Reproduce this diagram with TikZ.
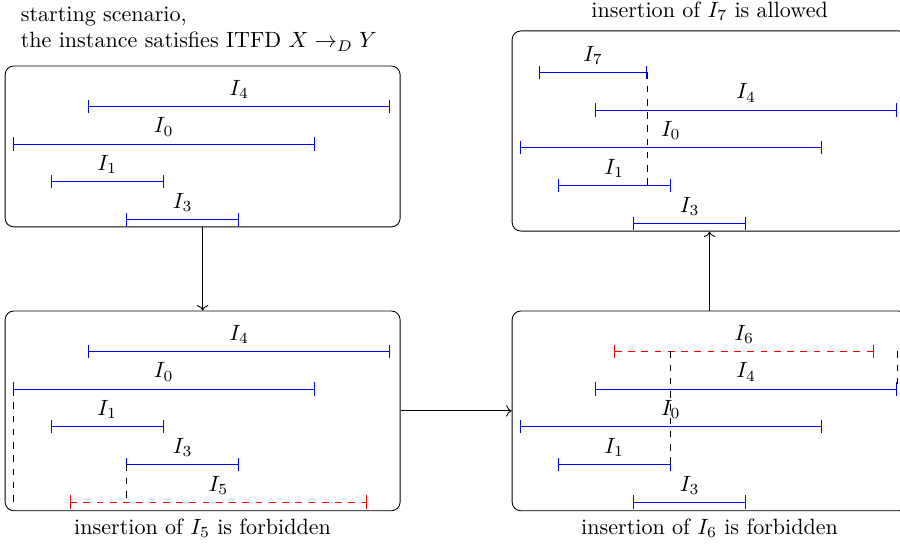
\documentclass[tikz,border=0pt]{standalone}
\usetikzlibrary{arrows.meta, fit}

\begin{document}
\begin{tikzpicture}[x=0.6cm, y=0.6cm,
    panel/.style={draw, rounded corners, inner sep=0pt},
    ival/.style={draw=blue, {Bar[width=6pt]}-{Bar[width=6pt]}},
    newival/.style={draw=red, dashed, {Bar[width=6pt]}-{Bar[width=6pt]}},
    link/.style={dashed}]
    \useasboundingbox (-0.345,-10.77) rectangle (23.53,3.82);

    % Panels (the right ones run past the edge)
    \node[panel, fit={(-0.21,2.07) (10.27,-2.2)}] (start) {};
    \node[panel, fit={(-0.21,-4.43) (10.27,-9.73)}] (five) {};
    \node[panel, fit={(13.24,-4.43) (23.72,-9.73)}] (six) {};
    \node[panel, fit={(13.24,3.0) (23.72,-2.31)}] (seven) {};

    % Intervals present in every panel, I0 at the panel origin
    \foreach \p/\px/\py in {start/0/0, five/0/-6.5, seven/13.45/-0.1, six/13.45/-7.5} {
        \begin{scope}[shift={(\px,\py)}]
            \foreach \i/\xa/\xb/\y in {4/2/10/1, 0/0/8/0, 1/1/4/-1, 3/3/6/-2} {
                \draw[ival] (\xa,\y) coordinate (\p-\i-l) -- (\xb,\y) coordinate (\p-\i-r);
                \path (\p-\i-l) -- node[above] (\p-\i) {$I_\i$} (\p-\i-r);
            }
        \end{scope}
    }

    % Inserted intervals
    \draw[newival] (1.5,-9.5) coordinate (five-5-l) -- (9.4,-9.5) coordinate (five-5-r);
    \path (five-5-l) -- node[above] (five-5) {$I_5$} (five-5-r);
    \draw[newival] (15.95,-5.5) coordinate (six-6-l) -- (22.85,-5.5) coordinate (six-6-r);
    \path (six-6-l) -- node[above] (six-6) {$I_6$} (six-6-r);
    \draw[ival] (13.95,1.9) coordinate (seven-7-l) -- (16.825,1.9) coordinate (seven-7-r);
    \path (seven-7-l) -- node[above] (seven-7) {$I_7$} (seven-7-r);

    % Dependencies
    \draw[link] (five-0-l) -- (five-0-l |- five-5-l);
    \draw[link] (five-3-l) -- (five-3-l |- five-5-l);
    \draw[link] (six-1-r |- six-6-l) -- (six-1-r);
    \draw[link] (six-4-r |- six-6-l) -- (six-4-r);
    \draw[link] (seven-7-r) -- (seven-7-r |- seven-1-r);

    % Texts
    \node[align=left, anchor=west] (title) at (0,3.05)
        {starting scenario,\\ the instance satisfies ITFD $X \rightarrow_D Y$};
    \node[below] (cap5) at (five.south) {insertion of $I_5$ is forbidden};
    \node[below] (cap6) at (six.south) {insertion of $I_6$ is forbidden};
    \node[above, yshift=1pt] (cap7) at (seven.north) {insertion of $I_7$ is allowed};

    % Steps
    \draw[->] (start) -- (five);
    \draw[->] (five) -- (six);
    \draw[->] (six) -- (seven);
\end{tikzpicture}
\end{document}
